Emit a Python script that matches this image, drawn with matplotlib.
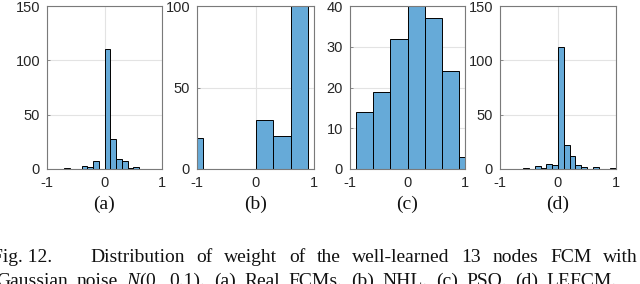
import numpy as np
import matplotlib
matplotlib.use("Agg")
import matplotlib.pyplot as plt

plt.rcParams["mathtext.fontset"] = "custom"
plt.rcParams["mathtext.rm"] = "Liberation Serif"
plt.rcParams["mathtext.it"] = "Liberation Serif:italic"

# ---- data (bin edges and counts) ----
edges_a = [-0.7, -0.6, -0.5, -0.4, -0.3, -0.2, -0.1, 0.0, 0.1, 0.2, 0.3, 0.4, 0.5, 0.6]
counts_a = [1, 0, 0, 3, 2, 7, 0, 110, 28, 9, 7, 1, 2]

edges_b = [-1.2, -0.9, -0.6, -0.3, 0.0, 0.3, 0.6, 0.9]
counts_b = [19, 0, 0, 0, 30, 20, 110]

edges_c = [-0.9, -0.6, -0.3, 0.0, 0.3, 0.6, 0.9, 1.2]
counts_c = [14, 19, 32, 40, 37, 24, 3]

edges_d = [-0.6, -0.5, -0.4, -0.3, -0.2, -0.1, 0.0, 0.1, 0.2, 0.3, 0.4, 0.5, 0.6, 0.7, 0.8, 0.9, 1.0]
counts_d = [1, 0, 3, 1, 5, 4, 112, 22, 12, 4, 2, 0, 2, 0, 0, 1]

yticks_a = [0, 50, 100, 150]
yticks_b = [0, 50, 100]
yticks_c = [0, 10, 20, 30, 40]
yticks_d = [0, 50, 100, 150]
xticks = [-1, 0, 1]
panel_labels = ["(a)", "(b)", "(c)", "(d)"]

caption_head = "Fig. 12."
caption1 = ["Distribution", "of", "weight", "of", "the", "well-learned", "13", "nodes", "FCM", "with"]
caption2 = ["Gaussian", "noise", "$\\mathit{N}$(0,", "0.1).", "(a)", "Real", "FCMs.", "(b)", "NHL.", "(c)", "PSO.", "(d)", "LEFCM."]

W, H = 640, 284
fig = plt.figure(figsize=(W / 100, H / 100), dpi=100)
fig.patch.set_facecolor("white")

bar_face = "#66aad8"
axis_col = "#7a7a7a"
text_col = "#262626"

boxes = [(47, 115), (197, 117), (350, 115), (500, 116)]
top_px, bot_px = 6, 169
datasets = [(edges_a, counts_a, yticks_a), (edges_b, counts_b, yticks_b),
            (edges_c, counts_c, yticks_c), (edges_d, counts_d, yticks_d)]

for (left, width), (edges, counts, yt), lab in zip(boxes, datasets, panel_labels):
    ax = fig.add_axes([left / W, 1 - bot_px / H, width / W, (bot_px - top_px) / H])
    ax.hist(edges[:-1], bins=edges, weights=counts, color=bar_face,
            edgecolor="black", linewidth=0.7)
    ax.set_xlim(-1, 1)
    ax.set_ylim(yt[0], yt[-1])
    ax.set_xticks(xticks)
    ax.set_yticks(yt)
    ax.set_xticklabels([str(v) for v in xticks])
    ax.grid(True, color="#e3e3e3", linewidth=0.8)
    ax.set_axisbelow(True)
    for s in ax.spines.values():
        s.set_color(axis_col)
        s.set_linewidth(0.8)
    ax.tick_params(direction="in", length=2, width=0.6, color=axis_col,
                   labelcolor=text_col, labelsize=10.5, pad=5)
    for t in ax.get_xticklabels() + ax.get_yticklabels():
        t.set_fontfamily("Liberation Sans")
    fig.text((left + width / 2) / W, 1 - 204 / H, lab, ha="center", va="center",
             fontsize=14, family="Liberation Serif", color="#111111")

# ---- caption: justified words ----
renderer = fig.canvas.get_renderer()


def place_line(words, x0, x1, ybase, fs=14):
    texts = [fig.text(0, ybase / H, w, fontsize=fs, family="Liberation Serif",
                      color="#111111", va="baseline", ha="left") for w in words]
    widths = [t.get_window_extent(renderer).width for t in texts]
    gap = (x1 - x0 - sum(widths)) / (len(words) - 1)
    x = x0
    for t, w in zip(texts, widths):
        t.set_x(x / W)
        x += w + gap


base1 = H - 261.7
fig.text(-8 / W, base1 / H, caption_head, fontsize=14, family="Liberation Serif",
         color="#111111", va="baseline", ha="left")
place_line(caption1, 90, 638, base1)
place_line(caption2, -4, 617, H - 285.5)

fig.savefig("out.png", dpi=100, facecolor="white")
